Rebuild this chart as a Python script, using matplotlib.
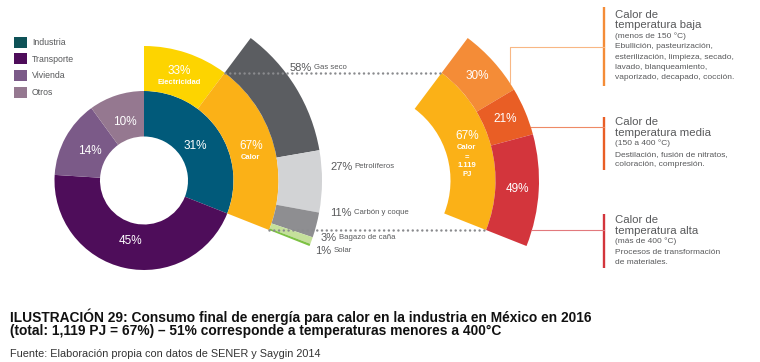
import numpy as np
import matplotlib.pyplot as plt
from matplotlib.patches import Patch

# datos
sectores = ['Industria', 'Transporte', 'Vivienda', 'Otros']
sector_pct = [31, 45, 14, 10]
usos = ['Electricidad', 'Calor']
uso_pct = [33, 67]
combustibles = ['Gas seco', 'Petrolíferos', 'Carbón y coque', 'Bagazo de caña', 'Solar']
comb_pct = [58, 27, 11, 3, 1]
niveles = ['baja', 'media', 'alta']
rangos = ['(menos de 150 °C)', '(150 a 400 °C)', '(más de 400 °C)']
procesos = [['Ebullición, pasteurización,', 'esterilización, limpieza, secado,',
             'lavado, blanqueamiento,', 'vaporizado, decapado, cocción.'],
            ['Destilación, fusión de nitratos,', 'coloración, compresión.'],
            ['Procesos de transformación', 'de materiales.']]
temp_pct = [30, 21, 49]
calor_pj = '1.119'

col_sector = ['#015a7a', '#4e0d5a', '#7b5a88', '#957890']
col_legend = ['#0e5257', '#4e0d5a', '#7b5a88', '#957890']
col_uso = ['#fdd400', '#fbb117']
col_comb = ['#5b5d61', '#d2d3d5', '#8e8e91', '#c5e09b', '#7dc143']
col_temp = ['#f48c37', '#e95e25', '#d3353c']
gris = '#58595b'

plt.rcParams['font.family'] = ['Liberation Sans', 'DejaVu Sans']

W, H = 760, 362
fig = plt.figure(figsize=(7.6, 3.62), dpi=100)
ax = fig.add_axes([0, 0, 1, 1])

c1 = (144, H - 180.5)
c2 = (361, H - 180.5)
R0, R1, R2, R3 = 44, 89.5, 134.5, 178
sin_borde = dict(linewidth=0)

def mitad(w):
    return np.deg2rad((w.theta1 + w.theta2) / 2)

def rotular(w, centro, r, txt, **kw):
    a = mitad(w)
    ax.text(centro[0] + r * np.cos(a), centro[1] + r * np.sin(a), txt,
            ha='center', va='center', **kw)

# anillo interior: sectores
w_sec, _ = ax.pie(np.array(sector_pct) / 100, radius=R1, center=c1, startangle=90,
                  counterclock=False, colors=col_sector,
                  wedgeprops=dict(width=R1 - R0, **sin_borde))
for w, p in zip(w_sec, sector_pct):
    rotular(w, c1, 62, f'{p}%', color='white', fontsize=8.5)

# anillo medio: usos dentro de industria
ind = sector_pct[0] / 100
w_uso, _ = ax.pie([ind * p / 100 for p in uso_pct], radius=R2, center=c1, startangle=90,
                  counterclock=False, normalize=False, colors=col_uso,
                  wedgeprops=dict(width=R2 - R1, **sin_borde))
for w, p, u in zip(w_uso, uso_pct, usos):
    a = mitad(w)
    x, y = c1[0] + 111 * np.cos(a), c1[1] + 111 * np.sin(a)
    ax.text(x, y + 4, f'{p}%', color='white', fontsize=8.5, ha='center', va='center')
    ax.text(x, y - 7, u, color='white', fontsize=5.5, fontweight='bold',
            ha='center', va='center')

# anillo exterior: combustibles dentro de calor
calor = ind * uso_pct[1] / 100
a_top = 90 - 360 * ind * uso_pct[0] / 100
a_bot = a_top - 360 * calor
ax.pie(calor * np.array(comb_pct) / 100, radius=R3, center=c1, startangle=a_top,
       counterclock=False, normalize=False, colors=col_comb,
       wedgeprops=dict(width=R3 - R2, **sin_borde))

pos_comb = [(290, 67.7), (330, 166.7), (330, 213.3), (320.7, 238), (315, 250.7)]
for (x, y), p, n in zip(pos_comb, comb_pct, combustibles):
    t = ax.text(x, H - y, f'{p}%', color=gris, fontsize=8, ha='left', va='center')
    ax.annotate(n, xy=(1, 0.18), xycoords=t, xytext=(1.5, 0), textcoords='offset points',
                color=gris, fontsize=5.6, ha='left', va='bottom')

# abanico derecho: calor por temperatura
w_cal, _ = ax.pie([calor], radius=R2, center=c2, startangle=a_top, counterclock=False,
                  normalize=False, colors=[col_uso[1]],
                  wedgeprops=dict(width=R2 - R1, **sin_borde))
w_tmp, _ = ax.pie(calor * np.array(temp_pct) / 100, radius=R3, center=c2, startangle=a_top,
                  counterclock=False, normalize=False, colors=col_temp,
                  wedgeprops=dict(width=R3 - R2, **sin_borde))
for w, p in zip(w_tmp, temp_pct):
    rotular(w, c2, 157, f'{p}%', color='white', fontsize=8.5)
a = mitad(w_cal[0])
xc, yc = c2[0] + 110 * np.cos(a), c2[1] + 110 * np.sin(a)
ax.text(xc, yc + 15, f'{uso_pct[1]}%', color='white', fontsize=8.5, ha='center', va='center')
for k, s in enumerate(['Calor', '=', calor_pj, 'PJ']):
    ax.text(xc, yc + 3 - k * 9, s, color='white', fontsize=5.5, fontweight='bold',
            ha='center', va='center')

# líneas punteadas entre los dos bloques de calor
for ang in (a_top, a_bot):
    r = np.deg2rad(ang)
    ax.plot([c1[0] + R2 * np.cos(r), c2[0] + R2 * np.cos(r)],
            [c1[1] + R2 * np.sin(r), c2[1] + R2 * np.sin(r)],
            color='#8a8b8e', lw=1.8, linestyle=(0, (0.01, 1.9)),
            dash_capstyle='round', zorder=5)

# anotaciones de temperatura
xb = 604.3
barras = [(6.7, 86), (117.3, 170), (214.3, 268.3)]
conect = [46.7, 127.3, 230]
inicio_y = [83.3, 127.3, 230]
col_lin = ['#f8b784', '#ee8a66', '#e2797d']
for i in range(3):
    y0, y1 = barras[i]
    ax.plot([xb, xb], [H - y0, H - y1], color=col_temp[i], lw=1.7, solid_capstyle='butt')
    ys = H - inicio_y[i]
    xs = c2[0] + np.sqrt(R3 ** 2 - (ys - c2[1]) ** 2)
    ax.plot([xs, xs, xb], [ys, H - conect[i], H - conect[i]], color=col_lin[i], lw=0.8)
    ty = [15, 122.3, 220][i]
    ax.text(615, H - ty, 'Calor de', color=gris, fontsize=8.2, va='center')
    ax.text(615, H - ty - 10.5, 'temperatura ' + niveles[i], color=gris, fontsize=8.2,
            va='center')
    ax.text(615, H - ty - 21.3, rangos[i], color=gris, fontsize=6, va='center')
    for j, s in enumerate(procesos[i]):
        ax.text(615, H - ty - 32 - 10.2 * j, s, color=gris, fontsize=6, va='center')

# leyenda
manijas = [Patch(facecolor=c, edgecolor='none', label=s) for c, s in zip(col_legend, sectores)]
ax.legend(handles=manijas, loc='upper left', bbox_to_anchor=(14 / W, 1 - 36.5 / H),
          frameon=False, fontsize=6.3, handlelength=1.45, handleheight=1.6,
          labelspacing=0.62, handletextpad=0.6, borderpad=0, borderaxespad=0,
          labelcolor=gris)

# título y fuente
titulo = ['ILUSTRACIÓN 29: Consumo final de energía para calor en la industria en México en 2016',
          '(total: 1,119 PJ = 67%) – 51% corresponde a temperaturas menores a 400°C']
for k, s in enumerate(titulo):
    ax.text(10, H - 316.5 - 15 * k, s, fontsize=9.9, fontweight='bold', color='#111111',
            va='center')
ax.text(10, H - 354, 'Fuente: Elaboración propia con datos de SENER y Saygin 2014',
        fontsize=7.8, color='#333333', va='center')

ax.set_xlim(0, W)
ax.set_ylim(0, H)
ax.set_aspect('equal')
ax.axis('off')
fig.savefig('out.png', dpi=100)
